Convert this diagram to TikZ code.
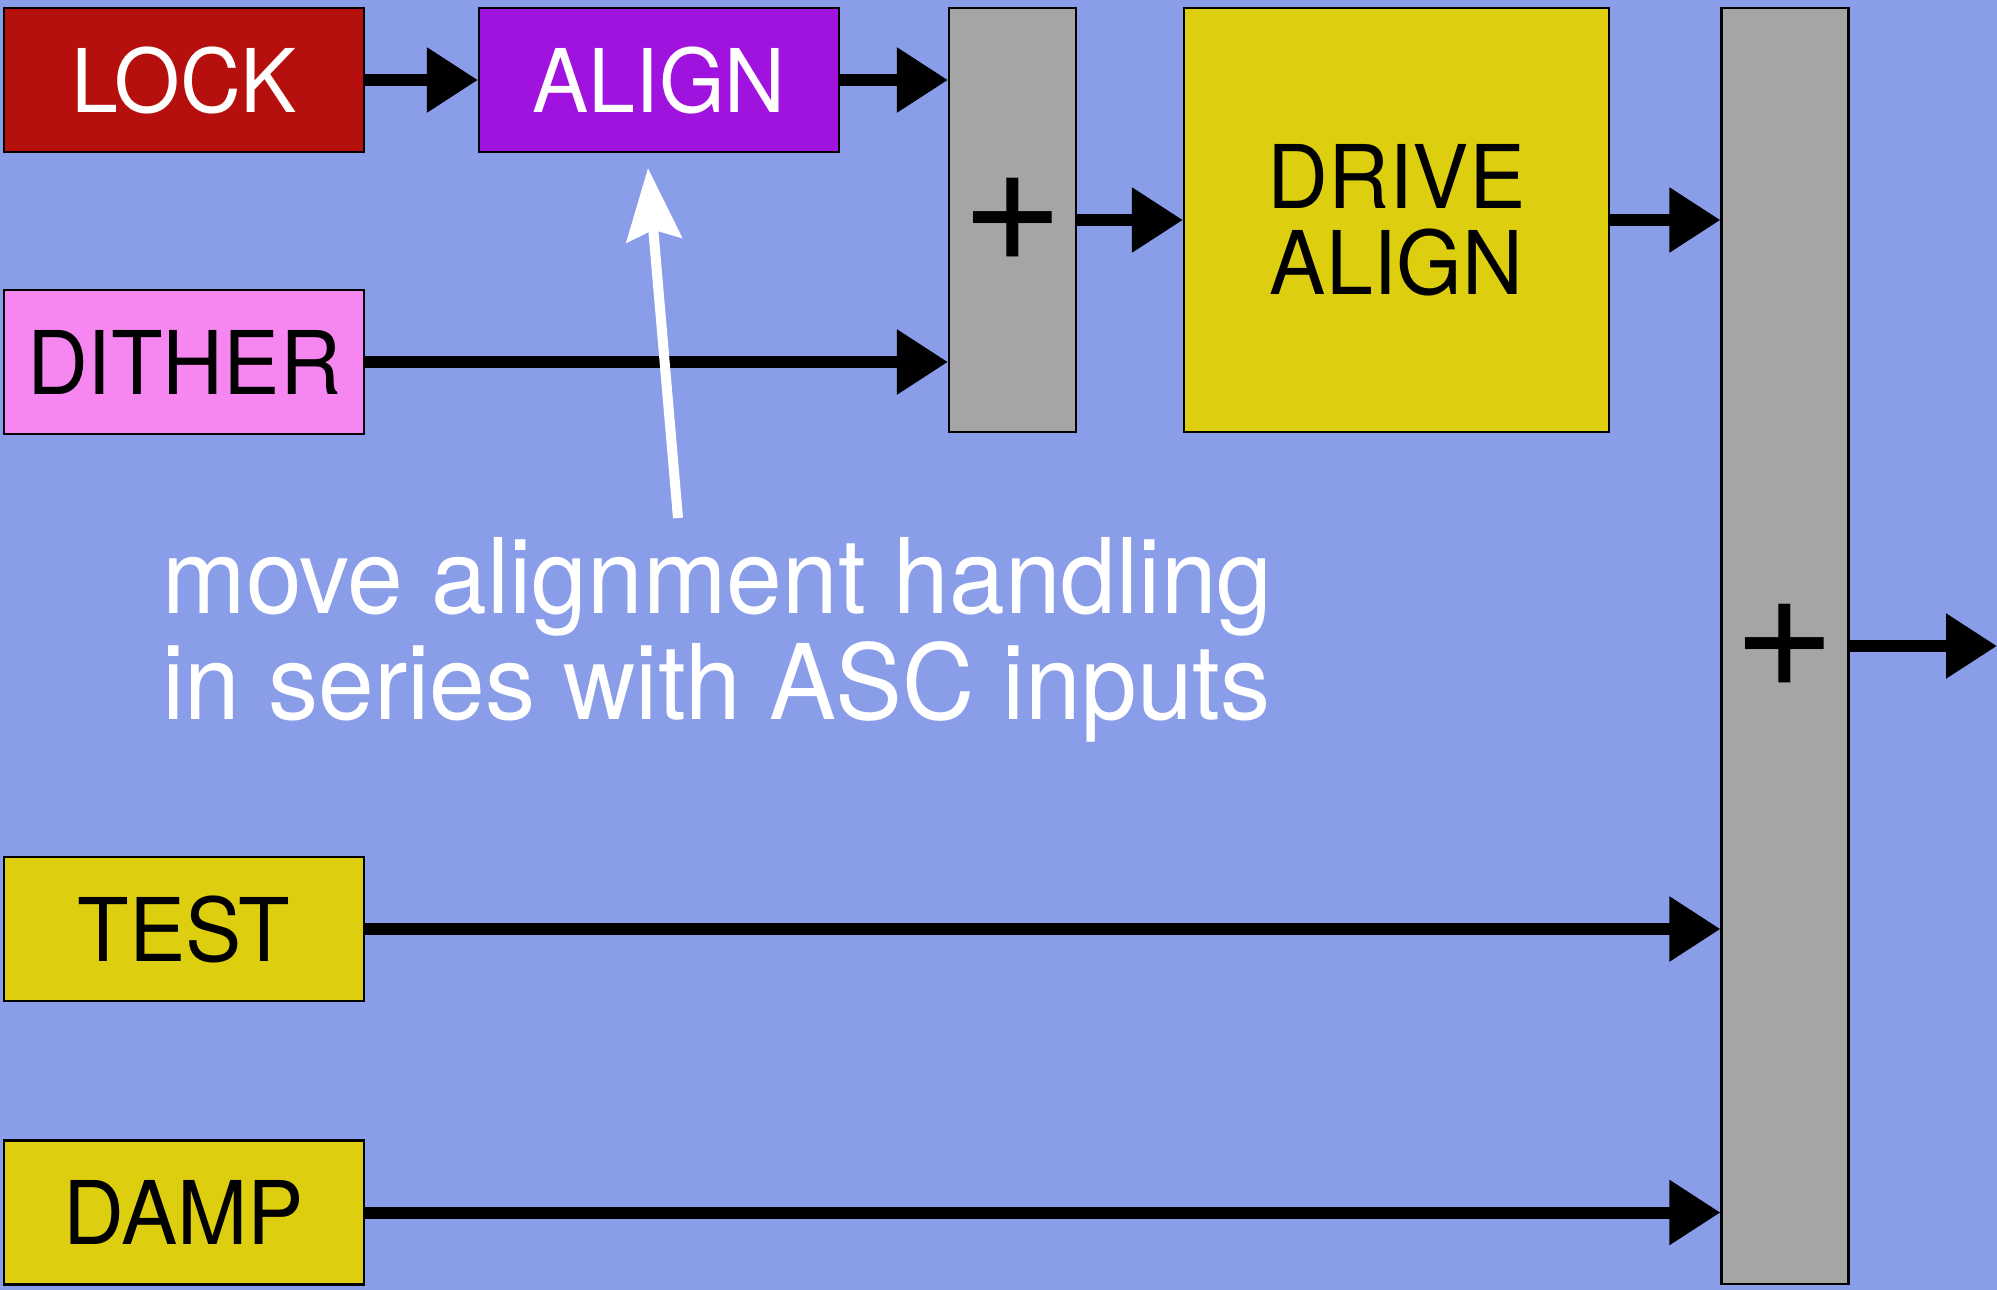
\documentclass[tikz,border=0pt]{standalone}
\usepackage{fontspec}
\setmainfont{TeX Gyre Heros}[FakeStretch=0.96]
\newfontfamily\plusfont{TeX Gyre Heros}
\usetikzlibrary{arrows.meta,positioning}
\definecolor{bgblue}{RGB}{137,157,232}
\definecolor{lockred}{RGB}{181,16,14}
\definecolor{alignviolet}{RGB}{160,18,222}
\definecolor{ditherpink}{RGB}{247,135,240}
\definecolor{boxyellow}{RGB}{221,206,16}
\definecolor{sumgray}{RGB}{165,165,165}

\begin{document}
\begin{tikzpicture}[
    block/.style={draw, line width=0.6pt, minimum width=3.6cm, minimum height=1.44cm, inner sep=0pt,
      align=center, font=\fontsize{25}{24.5}\selectfont},
    sumbar/.style={draw, line width=0.6pt, fill=sumgray, minimum width=1.27cm, inner sep=0pt,
      font=\plusfont\fontsize{50}{50}\selectfont},
    flow/.style={-{Triangle[length=0.51cm, width=0.62cm]}, line width=0.12cm},
    note/.style={text=white, align=left, inner sep=0pt, font=\fontsize{29.7}{30}\selectfont}]
  \useasboundingbox (0,0) rectangle (19.97,-12.90);
  \fill[bgblue] (0,0) rectangle (19.97,-12.90);

  % --- input blocks ---
  \node[block, fill=lockred, text=white]     (lock)   at (1.84,-0.80)   {LOCK};
  \node[block, fill=alignviolet, text=white] (align)  at (6.59,-0.80)   {ALIGN};
  \node[block, fill=ditherpink]              (dither) at (1.84,-3.62)   {DITHER};
  \node[block, fill=boxyellow]               (test)   at (1.84,-9.29)   {TEST};
  \node[block, fill=boxyellow]               (damp)   at (1.84,-12.125) {DAMP};

  % --- summing bars and drive ---
  \node[sumbar, minimum height=4.24cm]  (sum1)  at (10.125,-2.20) {+};
  \node[block, fill=boxyellow, minimum width=4.25cm, minimum height=4.24cm]
                                        (drive) at (13.965,-2.20) {DRIVE\\ALIGN};
  \node[sumbar, minimum height=12.76cm] (sum2)  at (17.85,-6.46)  {+};
  \coordinate (out) at (19.97,-6.46);

  % --- signal arrows ---
  \draw[flow] (lock) -- (align);
  \draw[flow] (align.east) -- (align.east -| sum1.west);
  \draw[flow] (dither.east) -- (dither.east -| sum1.west);
  \draw[flow] (sum1) -- (drive);
  \draw[flow] (drive.east) -- (drive.east -| sum2.west);
  \draw[flow] (test.east) -- (test.east -| sum2.west);
  \draw[flow] (damp.east) -- (damp.east -| sum2.west);
  \draw[flow] (sum2.east |- out) -- (out);

  % --- note with pointer ---
  \node[note, anchor=west] (note) at (1.62,-6.40)
    {move alignment handling\\in series with ASC inputs};
  \coordinate (tail) at (6.78,-5.18);
  \draw[-{Stealth[length=0.72cm, width=0.55cm, inset=0.1cm]}, line width=0.1cm, white]
    (tail) -- ([xshift=-0.11cm, yshift=-0.15cm]align.south);
\end{tikzpicture}
\end{document}
